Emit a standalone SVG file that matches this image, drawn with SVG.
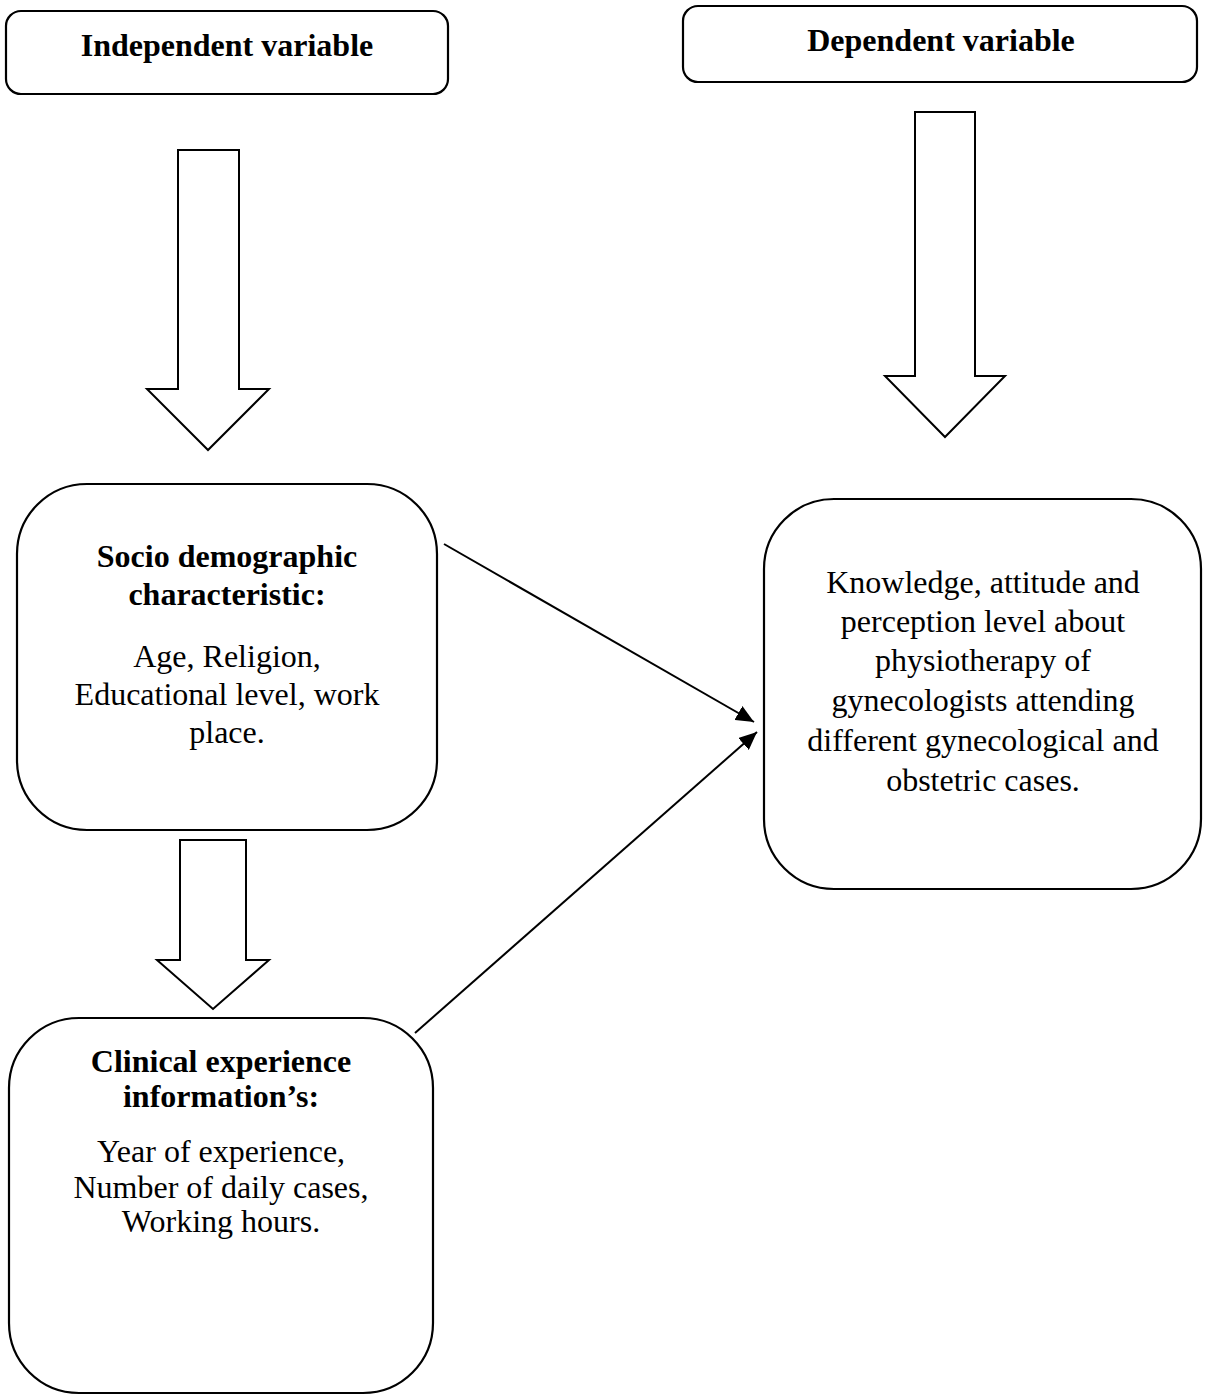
<svg xmlns="http://www.w3.org/2000/svg" width="1210" height="1396" viewBox="0 0 1210 1396">
<style>
.box{fill:#fff;stroke:#000;stroke-width:2.2}
.blk{fill:#fff;stroke:#000;stroke-width:2}
.con{fill:none;stroke:#000;stroke-width:2}
text{font-family:"Liberation Serif","Times New Roman",serif;fill:#000;text-anchor:middle}
.h{font-weight:bold;font-size:32px}
.b{font-weight:bold;font-size:32px}
.t{font-size:32px}
</style>
<defs>
<marker id="ah" markerUnits="userSpaceOnUse" markerWidth="20" markerHeight="16" refX="18" refY="8" orient="auto">
<path d="M0,0 L18,8 L0,16 Z" fill="#000"/>
</marker>
</defs>
<rect width="1210" height="1396" fill="#fff"/>
<g id="indep">
<rect class="box" x="6" y="11" width="442" height="83" rx="15"/>
<text class="h" x="227" y="56">Independent variable</text>
</g>
<g id="dep">
<rect class="box" x="683" y="6" width="514" height="76" rx="15"/>
<text class="h" x="941" y="51">Dependent variable</text>
</g>
<g id="arrow-indep">
<polygon class="blk" points="178,150 239,150 239,389 269,389 208,450 147,389 178,389"/>
</g>
<g id="arrow-dep">
<polygon class="blk" points="915,112 975,112 975,376 1005,376 945,437 885,376 915,376"/>
</g>
<g id="socio">
<rect class="box" x="17" y="484" width="420" height="346" rx="70"/>
<text class="b" x="227" y="567">Socio demographic</text>
<text class="b" x="227" y="605">characteristic:</text>
<text class="t" x="227" y="667">Age, Religion,</text>
<text class="t" x="227" y="705">Educational level, work</text>
<text class="t" x="227" y="743">place.</text>
</g>
<g id="arrow-socio">
<polygon class="blk" points="180,840 246,840 246,960 269,960 213,1009 157,960 180,960"/>
</g>
<g id="clinical">
<rect class="box" x="9" y="1018" width="424" height="375" rx="70"/>
<text class="b" x="221" y="1072">Clinical experience</text>
<text class="b" x="221" y="1107">information’s:</text>
<text class="t" x="221" y="1162">Year of experience,</text>
<text class="t" x="221" y="1198">Number of daily cases,</text>
<text class="t" x="221" y="1232">Working hours.</text>
</g>
<g id="outcome">
<rect class="box" x="764" y="499" width="437" height="390" rx="70"/>
<text class="t" x="983" y="593">Knowledge, attitude and</text>
<text class="t" x="983" y="632">perception level about</text>
<text class="t" x="983" y="671">physiotherapy of</text>
<text class="t" x="983" y="711">gynecologists attending</text>
<text class="t" x="983" y="751">different gynecological and</text>
<text class="t" x="983" y="791">obstetric cases.</text>
</g>
<g id="connectors">
<line class="con" x1="444" y1="544" x2="754" y2="722" marker-end="url(#ah)"/>
<line class="con" x1="415" y1="1033" x2="757" y2="732" marker-end="url(#ah)"/>
</g>
</svg>
